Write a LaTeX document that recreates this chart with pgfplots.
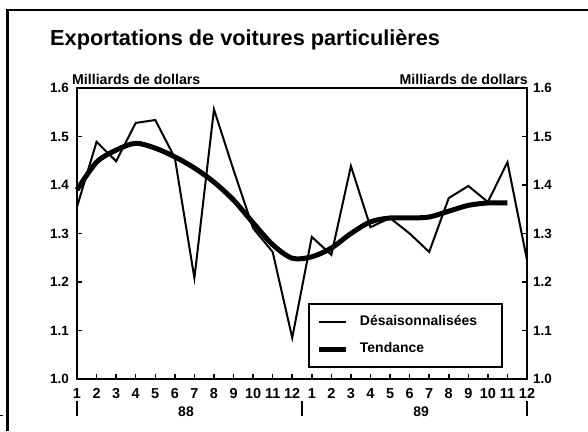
\documentclass[border=0pt]{standalone}
\usepackage{fontspec}
\setmainfont{Liberation Sans}
\usepackage{pgfplots}
\pgfplotsset{compat=1.18}

\pgfplotstableread{
m  val
0  1.355
1  1.489
2  1.449
3  1.528
4  1.534
5  1.456
6  1.208
7  1.556
8  1.431
9  1.311
10 1.262
11 1.085
12 1.293
13 1.256
14 1.439
15 1.313
16 1.332
17 1.300
18 1.262
19 1.373
20 1.398
21 1.365
22 1.447
23 1.245
}\desais

\pgfplotstableread{
m  val
0  1.390
1  1.447
2  1.472
3  1.486
4  1.476
5  1.458
6  1.435
7  1.406
8  1.369
9  1.322
10 1.277
11 1.249
12 1.252
13 1.270
14 1.300
15 1.324
16 1.332
17 1.332
18 1.334
19 1.346
20 1.358
21 1.363
22 1.363
}\tendance

\begin{document}
\begin{tikzpicture}[x=1bp,y=1bp]
\useasboundingbox (0,0) rectangle (588,431);
\fill[white] (0,0) rectangle (588,431);
\draw[line width=2.5bp] (7.5,0) -- (7.5,421) -- (588,421);
\draw[line width=1bp] (0,16) -- (3,16);
\node[anchor=base west, font=\fontsize{21.8}{24}\selectfont\bfseries, inner sep=0pt] at (50,386) {Exportations de voitures particulières};
\node[anchor=west, font=\fontsize{14.2}{16}\selectfont\bfseries, inner sep=0pt] at (72,352) {Milliards de dollars};
\node[anchor=east, font=\fontsize{14.2}{16}\selectfont\bfseries, inner sep=0pt] at (528,352) {Milliards de dollars};

\begin{axis}[
  at={(77bp,52bp)}, anchor=south west,
  scale only axis, width=450bp, height=291bp,
  xmin=0, xmax=23, ymin=1.0, ymax=1.6,
  axis line style={line width=2.5bp},
  tick align=inside, major tick length=5bp,
  tick style={line width=1.5bp, black},
  xtick={0,...,23},
  xticklabels={1,2,3,4,5,6,7,8,9,10,11,12,1,2,3,4,5,6,7,8,9,10,11,12},
  xtick pos=lower,
  ytick={1.0,1.1,1.2,1.3,1.4,1.5,1.6},
  yticklabels={1.0,1.1,1.2,1.3,1.4,1.5,1.6},
  ytick pos=left,
  /pgf/number format/assume math mode=true,
  xticklabel style={font=\fontsize{14.5}{16}\selectfont\bfseries, inner sep=0pt, yshift=-9bp},
  yticklabel style={font=\fontsize{13.5}{15}\selectfont\bfseries, inner sep=0pt, xshift=-8bp},
  legend style={at={(0.5133,0.261)}, anchor=north west, draw=black, line width=2bp,
    inner xsep=8bp, inner ysep=11.5bp, row sep=14bp,
    nodes={inner sep=0pt, text height=10bp, text depth=3bp},
    font=\fontsize{14}{16}\selectfont\bfseries, fill=white},
  legend cell align=left,
  legend image code/.code={\draw[#1] (0bp,0bp) -- (27bp,0bp);},
  clip=false,
]
\addplot[black, line width=2bp, sharp plot] table[x=m, y=val] {\desais};
\addlegendentry{\hspace*{11bp}\makebox[134bp][l]{Désaisonnalisées}}
\addplot[black, line width=5bp, smooth, tension=0.5] table[x=m, y=val] {\tendance};
\addlegendentry{\hspace*{11bp}\makebox[134bp][l]{Tendance}}
\end{axis}

\begin{axis}[
  at={(77bp,52bp)}, anchor=south west,
  scale only axis, width=450bp, height=291bp,
  xmin=0, xmax=23, ymin=1.0, ymax=1.6,
  hide x axis,
  axis y line*=right,
  axis line style={line width=2.5bp, -},
  tick align=inside, major tick length=5bp,
  tick style={line width=1.5bp, black},
  ytick={1.0,1.1,1.2,1.3,1.4,1.5,1.6},
  yticklabels={1.0,1.1,1.2,1.3,1.4,1.5,1.6},
  yticklabel style={font=\fontsize{13.5}{15}\selectfont\bfseries, inner sep=0pt, xshift=6bp},
]
\addplot[draw=none] coordinates {(0,1.0)};
\end{axis}

\draw[line width=2bp] (77,15) -- (77,30);
\draw[line width=2bp] (302,15) -- (302,30);
\draw[line width=2bp] (527,15) -- (527,30);
\node[font=\fontsize{14}{16}\selectfont\bfseries, inner sep=0pt] at (186,19) {88};
\node[font=\fontsize{14}{16}\selectfont\bfseries, inner sep=0pt] at (421,19) {89};
\end{tikzpicture}
\end{document}
